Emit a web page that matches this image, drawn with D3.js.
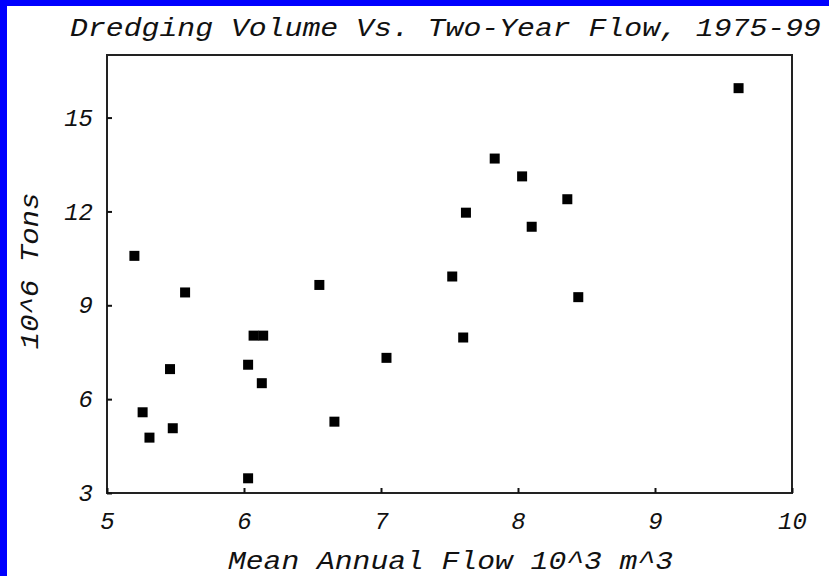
<!DOCTYPE html>
<html><head><meta charset="utf-8">
<script src="https://cdn.jsdelivr.net/npm/d3@7"></script>
<style>
body{margin:0;background:#fff;}
text{font-family:"Liberation Mono","Courier New",monospace;font-style:italic;fill:#111;}
</style>
</head><body>
<svg id="c" width="829" height="576"></svg>
<script>
// Data
const flow = [5.20, 5.57, 6.07, 6.14, 6.03, 6.13, 5.46, 5.26, 5.48, 5.31, 6.03, 6.55, 7.04, 6.66,
              7.83, 8.03, 8.36, 7.62, 8.10, 7.52, 8.44, 7.60, 9.61];
const tons = [10.58, 9.41, 8.03, 8.03, 7.10, 6.51, 6.96, 5.58, 5.07, 4.77, 3.47, 9.65, 7.32, 5.28,
              13.69, 13.12, 12.39, 11.96, 11.51, 9.92, 9.26, 7.97, 15.94];
const xTicks = [5, 6, 7, 8, 9, 10];
const yTicks = [3, 6, 9, 12, 15];
const titleText = "Dredging Volume Vs. Two-Year Flow, 1975-99";
const xLabel = "Mean Annual Flow 10^3 m^3";
const yLabel = "10^6 Tons";

const svg = d3.select("#c");
const W = 829, H = 576;
const L = 107, R = 792, T = 55, B = 493;

svg.append("rect").attr("width", W).attr("height", H).attr("fill", "#fff");
// blue border strips (left and top)
svg.append("rect").attr("x", 0).attr("y", 0).attr("width", 7).attr("height", H).attr("fill", "#0000ff");
svg.append("rect").attr("x", 0).attr("y", 0).attr("width", W).attr("height", 6).attr("fill", "#0000ff");

const x = d3.scaleLinear().domain([5, 10]).range([L, R]);
const y = d3.scaleLinear().domain([3, 17]).range([B, T]);

// frame
svg.append("rect").attr("x", L).attr("y", T).attr("width", R - L).attr("height", B - T)
  .attr("fill", "none").attr("stroke", "#222").attr("stroke-width", 2);

// x axis (ticks inward)
const xAxis = d3.axisBottom(x).tickValues(xTicks).tickSize(-5).tickPadding(19).tickFormat(d3.format("d"));
const gx = svg.append("g").attr("transform", `translate(0,${B})`).call(xAxis);
gx.select(".domain").remove();
gx.selectAll(".tick line").attr("stroke", "#111").attr("stroke-width", 2);
gx.selectAll(".tick text").attr("font-size", 24).attr("dy", "0.72em").attr("fill", "#111")
  .style("font-family", '"Liberation Mono",monospace').style("font-style", "italic");

const yAxis = d3.axisLeft(y).tickValues(yTicks).tickSize(-5).tickPadding(14).tickFormat(d3.format("d"));
const gy = svg.append("g").attr("transform", `translate(${L},0)`).call(yAxis);
gy.select(".domain").remove();
gy.selectAll(".tick line").attr("stroke", "#111").attr("stroke-width", 2);
gy.selectAll(".tick text").attr("font-size", 24).attr("fill", "#111")
  .style("font-family", '"Liberation Mono",monospace').style("font-style", "italic");

// points
svg.append("g").selectAll("rect").data(flow.map((f, i) => [f, tons[i]])).join("rect")
  .attr("x", d => x(d[0]) - 5).attr("y", d => y(d[1]) - 5)
  .attr("width", 10).attr("height", 10).attr("fill", "#000");

// title & labels
svg.append("text").attr("x", 70).attr("y", 36).attr("font-size", 26)
  .attr("textLength", 751).attr("lengthAdjust", "spacingAndGlyphs").text(titleText);
svg.append("text").attr("x", 228).attr("y", 569).attr("font-size", 26)
  .attr("textLength", 445).attr("lengthAdjust", "spacingAndGlyphs").text(xLabel);
svg.append("text").attr("transform", "translate(38,271) rotate(-90)").attr("text-anchor", "middle")
  .attr("font-size", 26).attr("textLength", 157).attr("lengthAdjust", "spacingAndGlyphs").text(yLabel);
</script>
</body></html>
